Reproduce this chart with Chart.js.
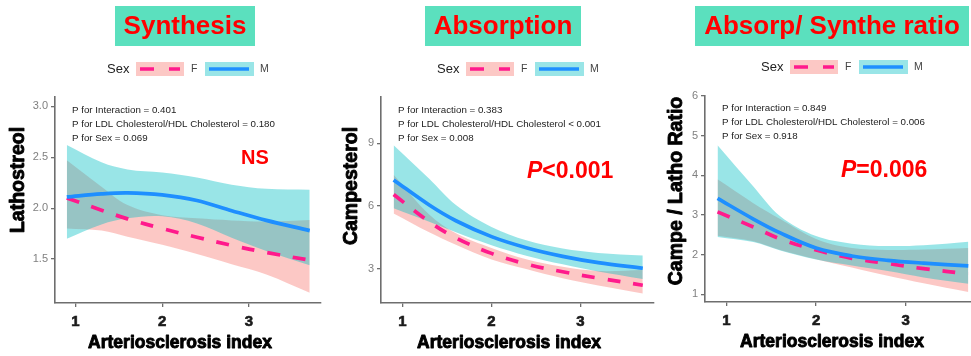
<!DOCTYPE html>
<html><head><meta charset="utf-8">
<script src="https://cdn.jsdelivr.net/npm/chart.js@4/dist/chart.umd.min.js"></script>
<style>
html,body{margin:0;padding:0;background:#fff;width:971px;height:356px;overflow:hidden;}
.panel{position:absolute;top:0;height:356px;}
canvas{display:block;}
</style></head><body>
<div class="panel" style="left:0;width:330px"><canvas id="c1" width="330" height="356"></canvas></div>
<div class="panel" style="left:330px;width:330px"><canvas id="c2" width="330" height="356"></canvas></div>
<div class="panel" style="left:660px;width:311px"><canvas id="c3" width="311" height="356"></canvas></div>
<script>
// ---------- data ----------
const X_VALUES = [0.9, 1.3, 1.6, 2.0, 2.4, 2.8, 3.2, 3.7];
const X_TICKS = [1, 2, 3];
const X_TITLE = 'Arteriosclerosis index';
const SERIES_NAMES = ['F', 'M'];

// Panel 1: Lathosterol (Synthesis)
const LATHO_F       = [2.10, 1.98, 1.895, 1.80, 1.715, 1.635, 1.565, 1.49];
const LATHO_F_UPPER = [2.47, 2.21, 2.03, 1.93, 1.90, 1.88, 1.87, 1.885];
const LATHO_F_LOWER = [1.80, 1.78, 1.72, 1.64, 1.55, 1.45, 1.35, 1.17];
const LATHO_M       = [2.11, 2.14, 2.15, 2.13, 2.075, 1.975, 1.88, 1.78];
const LATHO_M_UPPER = [2.62, 2.45, 2.38, 2.35, 2.30, 2.23, 2.19, 2.18];
const LATHO_M_LOWER = [1.70, 1.84, 1.90, 1.92, 1.85, 1.71, 1.58, 1.44];
const LATHO_TICKS = [1.5, 2.0, 2.5, 3.0];
const LATHO_STATS = ['P for Interaction = 0.401', 'P for LDL Cholesterol/HDL Cholesterol = 0.180', 'P for Sex = 0.069'];

// Panel 2: Campesterol (Absorption)
const CAMPE_F       = [6.55, 5.25, 4.48, 3.74, 3.22, 2.86, 2.56, 2.22];
const CAMPE_F_UPPER = [7.50, 5.60, 4.70, 4.00, 3.45, 3.10, 2.90, 2.95];
const CAMPE_F_LOWER = [5.65, 4.75, 4.15, 3.45, 2.98, 2.55, 2.20, 1.82];
const CAMPE_M       = [7.25, 6.05, 5.30, 4.54, 4.00, 3.60, 3.30, 3.03];
const CAMPE_M_UPPER = [8.90, 7.30, 6.05, 5.00, 4.35, 3.97, 3.76, 3.64];
const CAMPE_M_LOWER = [5.90, 5.25, 4.75, 4.13, 3.62, 3.22, 2.88, 2.52];
const CAMPE_TICKS = [3, 6, 9];
const CAMPE_STATS = ['P for Interaction = 0.383', 'P for LDL Cholesterol/HDL Cholesterol < 0.001', 'P for Sex = 0.008'];

// Panel 3: Campe/Latho ratio
const RATIO_F       = [3.08, 2.70, 2.40, 2.12, 1.91, 1.78, 1.65, 1.52];
const RATIO_F_UPPER = [3.90, 3.30, 2.90, 2.40, 2.17, 2.12, 2.13, 2.17];
const RATIO_F_LOWER = [2.48, 2.34, 2.12, 1.89, 1.68, 1.47, 1.28, 1.06];
const RATIO_M       = [3.42, 2.90, 2.55, 2.17, 1.97, 1.86, 1.79, 1.72];
const RATIO_M_UPPER = [4.76, 3.72, 2.97, 2.47, 2.28, 2.22, 2.24, 2.33];
const RATIO_M_LOWER = [2.45, 2.32, 2.11, 1.88, 1.73, 1.59, 1.43, 1.27];
const RATIO_TICKS = [1, 2, 3, 4, 5, 6];
const RATIO_STATS = ['P for Interaction = 0.849', 'P for LDL Cholesterol/HDL Cholesterol = 0.006', 'P for Sex = 0.918'];

// ---------- styles ----------
const FONT = '"Liberation Sans", Arial, Helvetica, sans-serif';
const F_COL = '#FF1A8C', M_COL = '#1E8FFF';
const F_BAND = 'rgba(248,118,109,0.4)', M_BAND = 'rgba(0,191,196,0.4)';
const AX = '#6e6e6e';
const TITLE_BG = '#5BE0BE';
Chart.defaults.font.family = FONT;

function heavyText(c, s, x, y, w) {
  c.lineWidth = w; c.lineJoin = 'round'; c.strokeStyle = c.fillStyle;
  c.strokeText(s, x, y); c.fillText(s, x, y);
}

const decor = {
  id: 'decor',
  afterDraw(chart, _a, o) {
    const c = chart.ctx;
    c.save();
    // title box
    c.fillStyle = TITLE_BG;
    c.fillRect(o.box[0], o.box[1], o.box[2], o.box[3]);
    c.fillStyle = '#FF0000';
    c.font = 'bold 26px ' + FONT;
    c.textAlign = 'center'; c.textBaseline = 'alphabetic';
    c.fillText(o.title, o.box[0] + o.box[2] / 2, o.box[1] + 28);
    // legend
    const L = o.legend;
    c.textAlign = 'left'; c.textBaseline = 'middle';
    c.font = '13px ' + FONT; c.fillStyle = '#222';
    c.fillText('Sex', L.sex, L.y);
    c.fillStyle = F_BAND; c.fillRect(L.f, L.y - 7, 48, 14);
    c.fillStyle = M_BAND; c.fillRect(L.m, L.y - 7, 49, 14);
    c.lineWidth = 3.5; c.lineCap = 'butt';
    c.strokeStyle = F_COL; c.setLineDash([14, 15]);
    c.beginPath(); c.moveTo(L.f + 4, L.y); c.lineTo(L.f + 44, L.y); c.stroke();
    c.setLineDash([]);
    c.strokeStyle = M_COL;
    c.beginPath(); c.moveTo(L.m + 4, L.y); c.lineTo(L.m + 44, L.y); c.stroke();
    c.font = '10.5px ' + FONT; c.fillStyle = '#444';
    c.fillText(SERIES_NAMES[0], L.f + 55, L.y);
    c.fillText(SERIES_NAMES[1], L.m + 55, L.y);
    // stats
    c.font = '9.75px ' + FONT; c.fillStyle = '#222';
    o.stats.forEach((s, i) => c.fillText(s, o.statX, o.statY + i * 14));
    // big label
    c.fillStyle = '#FF0000'; c.textBaseline = 'alphabetic';
    let bx = o.big.x;
    if (o.big.italic) {
      c.font = 'italic bold ' + o.big.size + 'px ' + FONT;
      c.fillText(o.big.italic, bx, o.big.y);
      bx += c.measureText(o.big.italic).width;
    }
    c.font = 'bold ' + o.big.size + 'px ' + FONT;
    c.fillText(o.big.text, bx, o.big.y);
    // axis titles
    c.fillStyle = '#000';
    c.font = 'bold 17.5px ' + FONT;
    c.textAlign = 'center';
    heavyText(c, X_TITLE, o.xTitle[0], o.xTitle[1], 0.9);
    c.font = 'bold 19.5px ' + FONT;
    c.translate(o.yTitle[0], o.yTitle[1]);
    c.rotate(-Math.PI / 2);
    c.textBaseline = 'middle';
    heavyText(c, o.yTitleText, 0, 0, 0.9);
    c.restore();
  }
};

function pts(arr) { return X_VALUES.map((x, i) => ({ x: x, y: arr[i] })); }

function makePanel(id, p) {
  const cv = document.getElementById(id);
  const W = cv.width, H = cv.height;
  const common = { pointRadius: 0, tension: 0.35 };
  const clear = 'rgba(0,0,0,0)';
  const datasets = [
    Object.assign({ label: 'F upper', data: pts(p.fUp), fill: '+1', backgroundColor: F_BAND, borderColor: clear, borderWidth: 0, order: 4 }, common),
    Object.assign({ label: 'F lower', data: pts(p.fLo), fill: false, borderColor: clear, borderWidth: 0, order: 4 }, common),
    Object.assign({ label: 'M upper', data: pts(p.mUp), fill: '+1', backgroundColor: M_BAND, borderColor: clear, borderWidth: 0, order: 3 }, common),
    Object.assign({ label: 'M lower', data: pts(p.mLo), fill: false, borderColor: clear, borderWidth: 0, order: 3 }, common),
    Object.assign({ label: SERIES_NAMES[0], data: pts(p.f), fill: false, borderColor: F_COL, borderWidth: 3.7, borderDash: [13, 13], order: 2 }, common),
    Object.assign({ label: SERIES_NAMES[1], data: pts(p.m), fill: false, borderColor: M_COL, borderWidth: 3.7, order: 1 }, common)
  ];
  return new Chart(cv, {
    type: 'line',
    data: { datasets: datasets },
    plugins: [decor],
    options: {
      responsive: false, animation: false, events: [],
      layout: { padding: { left: 0, right: W - p.area.right, top: p.area.top, bottom: 0 } },
      plugins: { legend: { display: false }, tooltip: { enabled: false }, decor: p.decor },
      scales: {
        x: {
          type: 'linear', min: p.xMin, max: p.xMax,
          afterBuildTicks: s => { s.ticks = X_TICKS.map(v => ({ value: v })); },
          afterFit: s => { s.height = H - p.area.bottom; },
          grid: { display: true, drawOnChartArea: false, drawTicks: true, tickLength: 4, color: AX, lineWidth: 1.3 },
          border: { display: true, color: AX, width: 1.6 },
          ticks: { autoSkip: false, maxRotation: 0, padding: 6, color: '#1a1a1a', textStrokeColor: '#1a1a1a', textStrokeWidth: 0.6, font: { size: 15, weight: 'bold' }, callback: v => String(v) }
        },
        y: {
          type: 'linear', min: p.yMin, max: p.yMax,
          afterBuildTicks: s => { s.ticks = p.yTicks.map(v => ({ value: v })); },
          afterFit: s => { s.width = p.area.left; },
          grid: { display: true, drawOnChartArea: false, drawTicks: true, tickLength: 4, color: AX, lineWidth: 1.3 },
          border: { display: true, color: AX, width: 1.6 },
          ticks: { autoSkip: false, padding: 3, color: '#808080', font: { size: 11 }, callback: v => p.yFmt(v) }
        }
      }
    }
  });
}

makePanel('c1', {
  f: LATHO_F, fUp: LATHO_F_UPPER, fLo: LATHO_F_LOWER, m: LATHO_M, mUp: LATHO_M_UPPER, mLo: LATHO_M_LOWER,
  yTicks: LATHO_TICKS, yFmt: v => v.toFixed(1),
  xMin: 0.764, xMax: 3.83, yMin: 1.07, yMax: 3.09,
  area: { left: 55, right: 321, top: 97, bottom: 303 },
  decor: {
    box: [115, 6, 140, 40], title: 'Synthesis',
    legend: { sex: 107, y: 69, f: 136, m: 205 },
    stats: LATHO_STATS, statX: 72, statY: 110,
    big: { x: 241, y: 164, size: 20, text: 'NS' },
    xTitle: [180, 348], yTitle: [19, 180], yTitleText: 'Lathostreol'
  }
});
makePanel('c2', {
  f: CAMPE_F, fUp: CAMPE_F_UPPER, fLo: CAMPE_F_LOWER, m: CAMPE_M, mUp: CAMPE_M_UPPER, mLo: CAMPE_M_LOWER,
  yTicks: CAMPE_TICKS, yFmt: v => String(v),
  xMin: 0.758, xMax: 3.826, yMin: 1.37, yMax: 11.21,
  area: { left: 51, right: 324, top: 97, bottom: 303 },
  decor: {
    box: [95, 6, 156, 40], title: 'Absorption',
    legend: { sex: 107, y: 69, f: 136, m: 205 },
    stats: CAMPE_STATS, statX: 68, statY: 110,
    big: { x: 197, y: 178, size: 23, italic: 'P', text: '<0.001' },
    xTitle: [179, 348], yTitle: [22, 186], yTitleText: 'Campesterol'
  }
});
makePanel('c3', {
  f: RATIO_F, fUp: RATIO_F_UPPER, fLo: RATIO_F_LOWER, m: RATIO_M, mUp: RATIO_M_UPPER, mLo: RATIO_M_LOWER,
  yTicks: RATIO_TICKS, yFmt: v => String(v),
  xMin: 0.76, xMax: 3.73, yMin: 0.81, yMax: 6.0,
  area: { left: 45, right: 311, top: 96, bottom: 302 },
  decor: {
    box: [35, 6, 274, 40], title: 'Absorp/ Synthe ratio',
    legend: { sex: 101, y: 67, f: 130, m: 199 },
    stats: RATIO_STATS, statX: 62, statY: 108,
    big: { x: 181, y: 177, size: 23, italic: 'P', text: '=0.006' },
    xTitle: [172, 347], yTitle: [17, 191], yTitleText: 'Campe / Latho Ratio'
  }
});
</script>
</body></html>
